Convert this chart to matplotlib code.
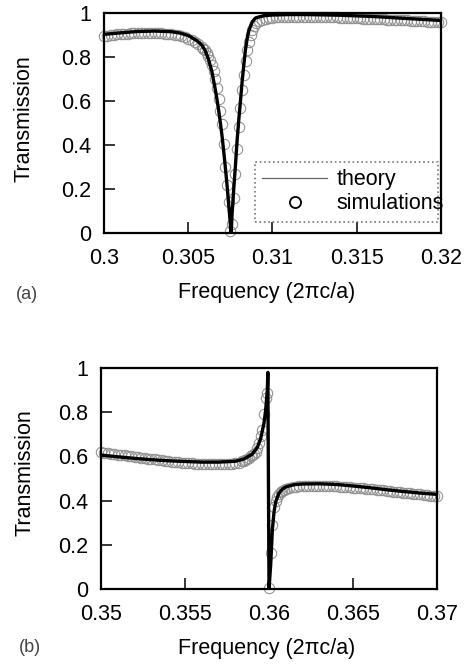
import matplotlib
matplotlib.use("Agg")
import matplotlib.pyplot as plt
from matplotlib.lines import Line2D

plt.rcParams['font.family'] = ['Liberation Sans', 'DejaVu Sans']

# ---- panel (a): symmetric dip ----
freq_a_theory = [0.3000, 0.3010, 0.3020, 0.3030, 0.3040, 0.3045, 0.3050, 0.3055, 0.3058,
                 0.3060, 0.3062, 0.3064, 0.3066, 0.3067, 0.3068, 0.3069, 0.3070, 0.3071,
                 0.3072, 0.3073, 0.3074, 0.3075, 0.30755, 0.3076, 0.3077, 0.3078, 0.3079,
                 0.3080, 0.3081, 0.3082, 0.3083, 0.3084, 0.3085, 0.3086, 0.3088, 0.3090,
                 0.3095, 0.3100, 0.3110, 0.3120, 0.3140, 0.3160, 0.3180, 0.3200]
trans_a_theory = [0.903, 0.910, 0.916, 0.918, 0.915, 0.909, 0.898, 0.875, 0.855,
                  0.830, 0.790, 0.735, 0.655, 0.610, 0.560, 0.505, 0.445, 0.375,
                  0.300, 0.220, 0.130, 0.040, 0.000, 0.085, 0.200, 0.305, 0.420,
                  0.515, 0.600, 0.690, 0.765, 0.835, 0.885, 0.920, 0.960, 0.978,
                  0.988, 0.991, 0.993, 0.993, 0.990, 0.984, 0.975, 0.966]

freq_a_sim = [0.3000, 0.3002, 0.3004, 0.3006, 0.3008, 0.3010, 0.3012, 0.3014, 0.3016, 0.3018,
              0.3020, 0.3022, 0.3024, 0.3026, 0.3028, 0.3030, 0.3032, 0.3034, 0.3036, 0.3038,
              0.3040, 0.3042, 0.3044, 0.3046, 0.3048, 0.3050, 0.3052, 0.3054, 0.3056, 0.3058,
              0.3059, 0.3060, 0.3061, 0.3062, 0.3063, 0.3064, 0.3065, 0.3066, 0.3067, 0.3068,
              0.3069, 0.3070, 0.3071, 0.3072, 0.3073, 0.3074, 0.3075, 0.3076, 0.3077, 0.3078,
              0.3079, 0.3080, 0.3081, 0.3082, 0.3083, 0.3084, 0.3085, 0.3086, 0.3087, 0.3088,
              0.3089, 0.3090, 0.3092, 0.3094, 0.3096, 0.3098, 0.3100, 0.3102, 0.3104, 0.3106,
              0.3108, 0.3110, 0.3112, 0.3114, 0.3116, 0.3118, 0.3120, 0.3122, 0.3124, 0.3126,
              0.3128, 0.3130, 0.3132, 0.3134, 0.3136, 0.3138, 0.3140, 0.3142, 0.3144, 0.3146,
              0.3148, 0.3150, 0.3152, 0.3154, 0.3156, 0.3158, 0.3160, 0.3162, 0.3164, 0.3166,
              0.3168, 0.3170, 0.3172, 0.3174, 0.3176, 0.3178, 0.3180, 0.3182, 0.3184, 0.3186,
              0.3188, 0.3190, 0.3192, 0.3194, 0.3196, 0.3198, 0.3200]
trans_a_sim = [0.895, 0.897, 0.899, 0.901, 0.903, 0.904, 0.905, 0.906, 0.907, 0.908,
               0.908, 0.909, 0.909, 0.909, 0.909, 0.909, 0.908, 0.907, 0.906, 0.905,
               0.903, 0.901, 0.898, 0.894, 0.889, 0.883, 0.876, 0.867, 0.857, 0.845,
               0.838, 0.830, 0.818, 0.803, 0.785, 0.762, 0.735, 0.700, 0.660, 0.610,
               0.555, 0.495, 0.405, 0.300, 0.220, 0.140, 0.010, 0.040, 0.160, 0.270,
               0.380, 0.480, 0.570, 0.650, 0.720, 0.780, 0.830, 0.870, 0.900, 0.925,
               0.942, 0.953, 0.964, 0.970, 0.974, 0.977, 0.979, 0.980, 0.981, 0.982,
               0.982, 0.983, 0.983, 0.983, 0.983, 0.983, 0.983, 0.983, 0.983, 0.982,
               0.982, 0.982, 0.981, 0.981, 0.980, 0.980, 0.979, 0.979, 0.978, 0.977,
               0.977, 0.976, 0.976, 0.975, 0.974, 0.974, 0.973, 0.972, 0.972, 0.971,
               0.970, 0.970, 0.969, 0.968, 0.967, 0.967, 0.966, 0.965, 0.964, 0.964,
               0.963, 0.962, 0.961, 0.961, 0.960, 0.959, 0.958]

# ---- panel (b): Fano line shape ----
freq_b_theory = [0.3500, 0.3510, 0.3520, 0.3530, 0.3540, 0.3550, 0.3560, 0.3570, 0.3580,
                 0.3585, 0.3590, 0.3593, 0.3595, 0.3597, 0.3598, 0.3599, 0.35993, 0.3600,
                 0.3601, 0.3602, 0.3603, 0.3604, 0.3606, 0.3608, 0.3610, 0.3615, 0.3620,
                 0.3630, 0.3640, 0.3650, 0.3660, 0.3670, 0.3680, 0.3690, 0.3700]
trans_b_theory = [0.606, 0.598, 0.591, 0.585, 0.580, 0.577, 0.574, 0.574, 0.578,
                  0.588, 0.610, 0.640, 0.680, 0.750, 0.810, 0.900, 0.980, 0.000,
                  0.110, 0.270, 0.350, 0.395, 0.435, 0.452, 0.462, 0.472, 0.475,
                  0.476, 0.473, 0.466, 0.458, 0.449, 0.441, 0.434, 0.428]

freq_b_sim = [0.3500, 0.3502, 0.3504, 0.3506, 0.3508, 0.3510, 0.3512, 0.3514, 0.3516, 0.3518,
              0.3520, 0.3522, 0.3524, 0.3526, 0.3528, 0.3530, 0.3532, 0.3534, 0.3536, 0.3538,
              0.3540, 0.3542, 0.3544, 0.3546, 0.3548, 0.3550, 0.3552, 0.3554, 0.3556, 0.3558,
              0.3560, 0.3562, 0.3564, 0.3566, 0.3568, 0.3570, 0.3572, 0.3574, 0.3576, 0.3578,
              0.3580, 0.3582, 0.3584, 0.3585, 0.3586, 0.3587, 0.3588, 0.3589, 0.3590, 0.3591,
              0.3592, 0.3593, 0.3594, 0.3595, 0.3596, 0.3597, 0.3598, 0.3599, 0.3600, 0.3601,
              0.3602, 0.3603, 0.3604, 0.3605, 0.3606, 0.3607, 0.3608, 0.3609, 0.3610, 0.3612,
              0.3614, 0.3616, 0.3618, 0.3620, 0.3622, 0.3624, 0.3626, 0.3628, 0.3630, 0.3632,
              0.3634, 0.3636, 0.3638, 0.3640, 0.3642, 0.3644, 0.3646, 0.3648, 0.3650, 0.3652,
              0.3654, 0.3656, 0.3658, 0.3660, 0.3662, 0.3664, 0.3666, 0.3668, 0.3670, 0.3672,
              0.3674, 0.3676, 0.3678, 0.3680, 0.3682, 0.3684, 0.3686, 0.3688, 0.3690, 0.3692,
              0.3694, 0.3696, 0.3698, 0.3700]
trans_b_sim = [0.618, 0.616, 0.614, 0.612, 0.610, 0.608, 0.606, 0.604, 0.602, 0.600,
               0.598, 0.596, 0.594, 0.592, 0.590, 0.588, 0.586, 0.584, 0.582, 0.580,
               0.578, 0.576, 0.574, 0.573, 0.571, 0.570, 0.569, 0.568, 0.567, 0.566,
               0.565, 0.565, 0.564, 0.564, 0.564, 0.564, 0.565, 0.565, 0.566, 0.567,
               0.569, 0.572, 0.577, 0.581, 0.585, 0.589, 0.594, 0.600, 0.605, 0.612,
               0.622, 0.638, 0.660, 0.690, 0.720, 0.790, 0.865, 0.885, 0.005, 0.163,
               0.290, 0.370, 0.400, 0.418, 0.430, 0.438, 0.444, 0.449, 0.452, 0.457,
               0.460, 0.462, 0.464, 0.465, 0.466, 0.467, 0.467, 0.467, 0.467, 0.467,
               0.466, 0.466, 0.465, 0.464, 0.463, 0.462, 0.461, 0.460, 0.459, 0.458,
               0.456, 0.455, 0.454, 0.452, 0.451, 0.449, 0.448, 0.446, 0.445, 0.443,
               0.441, 0.440, 0.438, 0.436, 0.434, 0.433, 0.431, 0.429, 0.428, 0.426,
               0.424, 0.422, 0.420, 0.419]

y_ticks = [0, 0.2, 0.4, 0.6, 0.8, 1]
y_ticklabels = ['0', '0.2', '0.4', '0.6', '0.8', '1']
x_ticks_a = [0.3, 0.305, 0.31, 0.315, 0.32]
x_ticklabels_a = ['0.3', '0.305', '0.31', '0.315', '0.32']
x_ticks_b = [0.35, 0.355, 0.36, 0.365, 0.37]
x_ticklabels_b = ['0.35', '0.355', '0.36', '0.365', '0.37']

FS = 15.5

fig = plt.figure(figsize=(4.69, 6.64), dpi=100)
ax_a = fig.add_axes([0.2217, 0.6491, 0.7186, 0.3313])
ax_b = fig.add_axes([0.2154, 0.1130, 0.7164, 0.3328])


def draw_panel(ax, sim_f, sim_t, th_f, th_t, xticks, xlabels, xlim):
    ax.plot(sim_f, sim_t, 'o', ms=7.5, mfc='none', mec='#8f8f8f', mew=0.75,
            zorder=2, clip_on=False)
    ax.plot(th_f, th_t, '-', color='black', lw=2.4, zorder=3)
    ax.set_xlim(*xlim)
    ax.set_ylim(0, 1)
    ax.set_xticks(xticks)
    ax.set_xticklabels(xlabels)
    ax.set_yticks(y_ticks)
    ax.set_yticklabels(y_ticklabels)
    ax.tick_params(direction='in', length=8, width=1.1, labelsize=FS,
                   top=False, right=False)
    ax.tick_params(axis='x', pad=11)
    ax.tick_params(axis='y', pad=9)
    for s in ax.spines.values():
        s.set_linewidth(1.6)
    ax.set_xlabel('Frequency (2\u03c0c/a)', fontsize=FS)
    ax.set_ylabel('Transmission', fontsize=FS)


draw_panel(ax_a, freq_a_sim, trans_a_sim, freq_a_theory, trans_a_theory,
           x_ticks_a, x_ticklabels_a, (0.3, 0.32))
ax_a.xaxis.set_label_coords(0.484, -0.225)
ax_a.yaxis.set_label_coords(-0.205, 0.52)

draw_panel(ax_b, freq_b_sim, trans_b_sim, freq_b_theory, trans_b_theory,
           x_ticks_b, x_ticklabels_b, (0.35, 0.37))
ax_b.xaxis.set_label_coords(0.494, -0.222)
ax_b.yaxis.set_label_coords(-0.196, 0.525)

# legend in panel (a)
h_theory = Line2D([], [], color='#666666', lw=0.9)
h_sim = Line2D([], [], ls='none', marker='o', ms=8, mfc='none', mec='black', mew=1.3)
leg = ax_a.legend([h_theory, h_sim], ['theory', 'simulations'], loc='lower left',
                  bbox_to_anchor=(0.448, 0.05, 0.543, 0.305), mode='expand',
                  borderaxespad=0, fontsize=FS, handlelength=3.0, handletextpad=0.45,
                  fancybox=False, framealpha=1, labelspacing=0.15, borderpad=0.35)
leg.get_frame().set_edgecolor('#777777')
leg.get_frame().set_linestyle(':')
leg.get_frame().set_linewidth(1.2)

fig.text(0.0576, 0.557, '(a)', fontsize=13, color='#444444', ha='center', va='center')
fig.text(0.064, 0.0256, '(b)', fontsize=13, color='#444444', ha='center', va='center')

fig.savefig('out.png', dpi=100)
